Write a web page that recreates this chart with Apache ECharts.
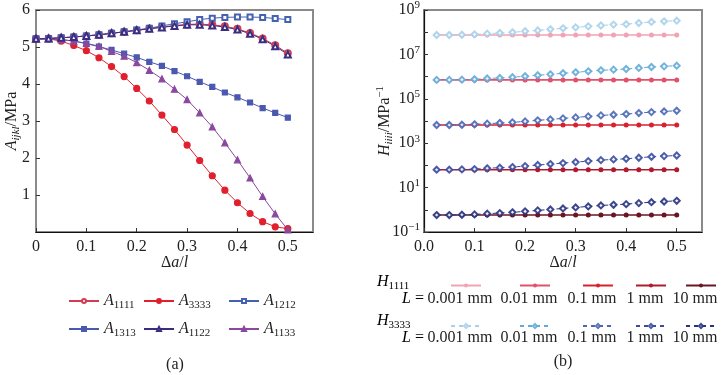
<!DOCTYPE html>
<html>
<head>
<meta charset="utf-8">
<script src="https://cdn.jsdelivr.net/npm/echarts@6/dist/echarts.min.js"></script>
<style>
  html, body { margin: 0; padding: 0; background: #fff; }
  #chart { width: 723px; height: 375px; }
</style>
</head>
<body>
<div id="chart"></div>
<script>
// (a) 刚度分量 A_ijkl 随 Δa/l 变化
const xA = [0, 0.025, 0.05, 0.075, 0.1, 0.125, 0.15, 0.175, 0.2, 0.225, 0.25, 0.275, 0.3, 0.325, 0.35, 0.375, 0.4, 0.425, 0.45, 0.475, 0.5];
const a1111 = [5.22, 5.23, 5.25, 5.27, 5.30, 5.33, 5.37, 5.41, 5.45, 5.50, 5.54, 5.58, 5.61, 5.62, 5.60, 5.56, 5.49, 5.38, 5.23, 5.05, 4.83];
const a3333 = [5.22, 5.22, 5.16, 5.04, 4.90, 4.71, 4.47, 4.20, 3.88, 3.54, 3.16, 2.77, 2.35, 1.93, 1.52, 1.13, 0.79, 0.50, 0.28, 0.14, 0.09];
const a1212 = [5.22, 5.23, 5.25, 5.27, 5.30, 5.33, 5.37, 5.41, 5.46, 5.51, 5.57, 5.63, 5.68, 5.74, 5.78, 5.80, 5.81, 5.81, 5.80, 5.77, 5.74];
const a1313 = [5.22, 5.22, 5.20, 5.16, 5.09, 5.01, 4.92, 4.82, 4.72, 4.60, 4.49, 4.35, 4.21, 4.06, 3.92, 3.77, 3.64, 3.50, 3.35, 3.22, 3.09];
const a1122 = [5.22, 5.23, 5.25, 5.27, 5.30, 5.33, 5.37, 5.41, 5.45, 5.49, 5.53, 5.57, 5.60, 5.60, 5.58, 5.54, 5.47, 5.36, 5.21, 5.02, 4.80];
const a1133 = [5.22, 5.22, 5.20, 5.16, 5.10, 5.02, 4.88, 4.75, 4.58, 4.37, 4.14, 3.86, 3.58, 3.22, 2.84, 2.41, 1.95, 1.46, 0.96, 0.49, 0.06];

// (b) 柔度分量 H_iiii，不同尺度 L
const xH = [0.025, 0.05, 0.075, 0.1, 0.125, 0.15, 0.175, 0.2, 0.225, 0.25, 0.275, 0.3, 0.325, 0.35, 0.375, 0.4, 0.425, 0.45, 0.475, 0.5];
const lLabels = ["0.001 mm", "0.01 mm", "0.1 mm", "1 mm", "10 mm"];
const h1111L0001 = [7.5e7, 7.5e7, 7.5e7, 7.5e7, 7.5e7, 7.5e7, 7.5e7, 7.5e7, 7.5e7, 7.5e7, 7.5e7, 7.5e7, 7.5e7, 7.5e7, 7.5e7, 7.5e7, 7.5e7, 7.5e7, 7.5e7, 7.5e7];
const h1111L001 = [7.1e5, 7.1e5, 7.1e5, 7.1e5, 7.1e5, 7.1e5, 7.1e5, 7.1e5, 7.1e5, 7.1e5, 7.1e5, 7.1e5, 7.1e5, 7.1e5, 7.1e5, 7.1e5, 7.1e5, 7.1e5, 7.1e5, 7.1e5];
const h1111L01 = [6.6e3, 6.6e3, 6.6e3, 6.6e3, 6.6e3, 6.6e3, 6.6e3, 6.6e3, 6.6e3, 6.6e3, 6.6e3, 6.6e3, 6.6e3, 6.6e3, 6.6e3, 6.6e3, 6.6e3, 6.6e3, 6.6e3, 6.6e3];
const h1111L1 = [64, 64, 64, 64, 64, 64, 64, 64, 64, 64, 64, 64, 64, 64, 64, 64, 64, 64, 64, 64];
const h1111L10 = [0.58, 0.58, 0.58, 0.58, 0.58, 0.58, 0.58, 0.58, 0.58, 0.58, 0.58, 0.58, 0.58, 0.58, 0.58, 0.58, 0.58, 0.58, 0.58, 0.58];
const h3333L0001 = [7.5e7, 7.5e7, 7.7e7, 8.0e7, 8.6e7, 9.2e7, 9.9e7, 1.1e8, 1.2e8, 1.35e8, 1.5e8, 1.65e8, 1.83e8, 2.0e8, 2.2e8, 2.3e8, 2.6e8, 2.9e8, 3.1e8, 3.3e8];
const h3333L001 = [7.1e5, 7.1e5, 7.3e5, 7.6e5, 8.2e5, 8.7e5, 9.4e5, 1.04e6, 1.15e6, 1.27e6, 1.41e6, 1.56e6, 1.73e6, 1.92e6, 2.06e6, 2.2e6, 2.45e6, 2.7e6, 2.9e6, 3.1e6];
const h3333L01 = [6.6e3, 6.6e3, 6.8e3, 7.1e3, 7.6e3, 8.1e3, 8.7e3, 9.6e3, 1.07e4, 1.18e4, 1.31e4, 1.45e4, 1.61e4, 1.79e4, 1.91e4, 2.05e4, 2.28e4, 2.52e4, 2.7e4, 2.9e4];
const h3333L1 = [64, 64, 66, 68, 74, 79, 84, 93, 104, 115, 127, 141, 156, 173, 186, 198, 221, 244, 262, 280];
const h3333L10 = [0.58, 0.58, 0.6, 0.62, 0.67, 0.71, 0.77, 0.85, 0.94, 1.04, 1.15, 1.28, 1.42, 1.57, 1.68, 1.8, 2.0, 2.2, 2.37, 2.54];

const FONT = "Liberation Serif";
const rich = {
  i: { fontFamily: FONT, fontSize: 16, fontStyle: "italic", color: "#222" },
  n: { fontFamily: FONT, fontSize: 16, color: "#222" },
  s: { fontFamily: FONT, fontSize: 11, color: "#222", padding: [9, 0, 0, 0] },
  si: { fontFamily: FONT, fontSize: 11, fontStyle: "italic", color: "#222", padding: [9, 0, 0, 0] },
  p: { fontFamily: FONT, fontSize: 11, color: "#222", padding: [0, 0, 9, 0] }
};

const pair = (xs, ys) => xs.map((x, k) => [x, ys[k]]);

function aSeries(name, data, color, symbol, size) {
  return {
    name: name, type: "line", xAxisIndex: 0, yAxisIndex: 0,
    data: pair(xA, data),
    symbol: symbol, symbolSize: size,
    lineStyle: { color: color, width: 1 },
    itemStyle: { color: color, borderColor: color, borderWidth: 1.2 }
  };
}

const hColors1111 = ["#f2a3b3", "#e2506b", "#d8202f", "#b01a2e", "#6a1424"];
const hColors3333 = ["#a9d2ea", "#63acd8", "#4a68b6", "#3a4ca0", "#27337f"];
const h1111Data = [h1111L0001, h1111L001, h1111L01, h1111L1, h1111L10];
const h3333Data = [h3333L0001, h3333L001, h3333L01, h3333L1, h3333L10];

const series = [
  aSeries("A1111", a1111, "#d23c50", "emptyCircle", 6),
  aSeries("A3333", a3333, "#e0202f", "circle", 6),
  aSeries("A1212", a1212, "#4462b0", "emptyRect", 5),
  aSeries("A1313", a1313, "#4a58b0", "rect", 5),
  aSeries("A1133", a1133, "#8a48a0", "triangle", 6),
  aSeries("A1122", a1122, "#3a2c80", "emptyTriangle", 6)
];

h1111Data.forEach((d, k) => {
  series.push({
    name: "H1111_" + k, type: "line", xAxisIndex: 1, yAxisIndex: 1,
    data: pair(xH, d), symbol: "circle", symbolSize: 5,
    lineStyle: { color: hColors1111[k], width: 1.6 },
    itemStyle: { color: hColors1111[k] }
  });
});
h3333Data.forEach((d, k) => {
  series.push({
    name: "H3333_" + k, type: "line", xAxisIndex: 1, yAxisIndex: 1,
    data: pair(xH, d), symbol: "emptyDiamond", symbolSize: 6,
    lineStyle: { color: hColors3333[k], width: 1, type: [4, 4] },
    itemStyle: { color: hColors3333[k], borderColor: hColors3333[k], borderWidth: 1.2, opacity: 0.9 }
  });
});

// 图例：左图 3×2，右图每个 L 一个图标
const legends = [];
const aLegendPos = [
  ["A1111", 63, 288], ["A3333", 138, 288], ["A1212", 223, 288],
  ["A1313", 63, 316], ["A1122", 138, 316], ["A1133", 223, 316]
];
aLegendPos.forEach(([name, l, t]) => {
  legends.push({
    data: [name], left: l, top: t, itemWidth: 30, itemHeight: 5, itemGap: 0,
    formatter: n => "{i|A}{s|" + n.slice(1) + "}",
    textStyle: { rich: rich, padding: [0, 0, 0, 0] },
    selectedMode: false
  });
});
const hCenters = [460, 529, 592, 645, 695];
hCenters.forEach((c, k) => {
  legends.push({ data: ["H1111_" + k], left: c - 15, top: 278, itemWidth: 30, itemHeight: 5, formatter: () => "", selectedMode: false });
  legends.push({ data: ["H3333_" + k], left: c - 15, top: 318, itemWidth: 30, itemHeight: 5, formatter: () => "", selectedMode: false });
});

const FONT_CSS = "16px '" + FONT + "'";
const graphics = [];
graphics.push({ type: "text", x: 175, y: 365, style: { text: "(a)", font: FONT_CSS, fill: "#222", textAlign: "center", textVerticalAlign: "middle" } });
graphics.push({ type: "text", x: 563, y: 362, style: { text: "(b)", font: FONT_CSS, fill: "#222", textAlign: "center", textVerticalAlign: "middle" } });
graphics.push({ type: "text", x: 377, y: 282, style: { text: "{i|H}{s|1111}", rich: rich, textVerticalAlign: "middle" } });
graphics.push({ type: "text", x: 377, y: 321, style: { text: "{i|H}{s|3333}", rich: rich, textVerticalAlign: "middle" } });
[299, 338].forEach(y => {
  graphics.push({ type: "text", x: 424, y: y, style: { text: "{i|L}{n| =}", rich: rich, textAlign: "right", textVerticalAlign: "middle" } });
  hCenters.forEach((c, k) => {
    graphics.push({ type: "text", x: c, y: y, style: { text: lLabels[k], font: FONT_CSS, fill: "#222", textAlign: "center", textVerticalAlign: "middle" } });
  });
});

const axisLabelStyle = { fontFamily: FONT, fontSize: 16, color: "#222" };

const option = {
  animation: false,
  backgroundColor: "#fff",
  grid: [
    { left: 36, top: 10, width: 277, height: 222, show: true, borderColor: "#8a8a8a", borderWidth: 2 },
    { left: 424, top: 10, width: 278, height: 222, show: true, borderColor: "#8a8a8a", borderWidth: 2 }
  ],
  xAxis: [
    {
      gridIndex: 0, type: "value", min: 0, max: 0.55, interval: 0.1,
      axisLine: { lineStyle: { color: "#111", width: 1.2 } },
      axisTick: { inside: true, length: 4, lineStyle: { color: "#333" } },
      splitLine: { show: false },
      axisLabel: { ...axisLabelStyle, margin: 7, showMaxLabel: false, formatter: v => (v === 0 ? "0" : v.toFixed(1)) },
      name: "{n|Δ}{i|a}{n|/}{i|l}", nameLocation: "middle", nameGap: 23, nameMoveOverlap: false,
      nameTextStyle: { rich: rich }
    },
    {
      gridIndex: 1, type: "value", min: 0, max: 0.55, interval: 0.1,
      axisLine: { lineStyle: { color: "#111", width: 1.2 } },
      axisTick: { inside: true, length: 4, lineStyle: { color: "#333" } },
      splitLine: { show: false },
      axisLabel: { ...axisLabelStyle, margin: 7, showMaxLabel: false, formatter: v => v.toFixed(1) },
      name: "{n|Δ}{i|a}{n|/}{i|l}", nameLocation: "middle", nameGap: 23, nameMoveOverlap: false,
      nameTextStyle: { rich: rich }
    }
  ],
  yAxis: [
    {
      gridIndex: 0, type: "value", min: 0, max: 6, interval: 1,
      axisLine: { show: true, lineStyle: { color: "#8a8a8a", width: 2 } },
      axisTick: { show: true, inside: true, length: 4, lineStyle: { color: "#333" } },
      splitLine: { show: false },
      axisLabel: { ...axisLabelStyle, margin: 6, showMinLabel: false },
      name: "{i|A}{si|ijkl}{n|/MPa}", nameLocation: "middle", nameGap: 14, nameRotate: 90, nameMoveOverlap: false,
      nameTextStyle: { rich: rich }
    },
    {
      gridIndex: 1, type: "log", logBase: 10, min: 0.1, max: 1e9, interval: 1,
      axisLine: { show: true, lineStyle: { color: "#111", width: 1.2 } },
      axisTick: { show: true, inside: true, length: 4, lineStyle: { color: "#333" } },
      minorTick: { show: false },
      splitLine: { show: false },
      axisLabel: {
        margin: 4,
        formatter: v => {
          const e = Math.round(Math.log10(v));
          if (Math.abs(e % 2) !== 1) return "";
          return "{n|10}{p|" + (e < 0 ? "−" + (-e) : e) + "}";
        },
        rich: rich
      },
      name: "{i|H}{si|iiii}{n|/MPa}{p|−1}", nameLocation: "middle", nameGap: 29, nameRotate: 90, nameMoveOverlap: false,
      nameTextStyle: { rich: rich }
    }
  ],
  legend: legends,
  graphic: graphics,
  series: series
};

const myChart = echarts.init(document.getElementById("chart"));
myChart.setOption(option);
window.addEventListener("resize", () => {
  myChart.resize();
});
</script>
</body>
</html>
